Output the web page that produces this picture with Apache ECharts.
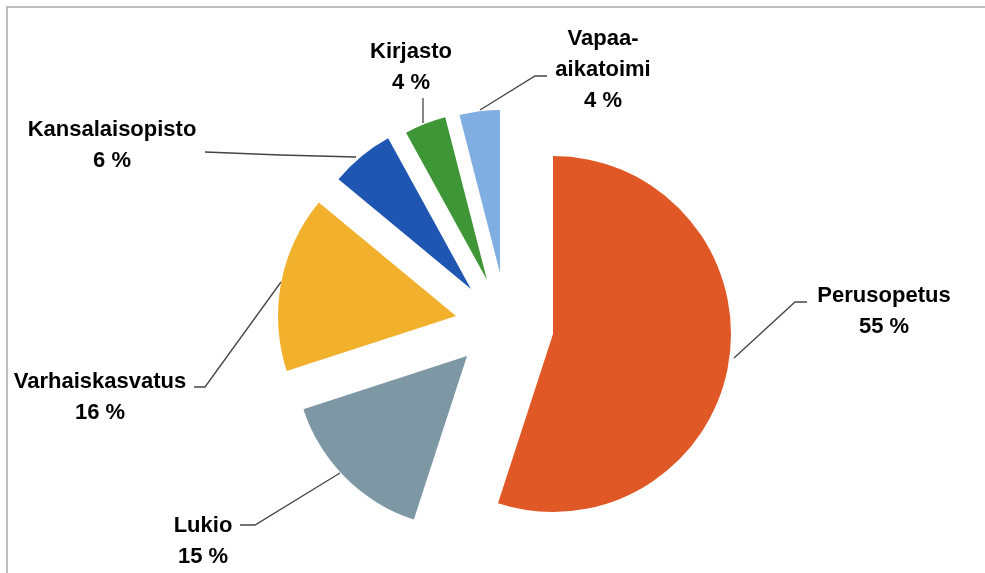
<!DOCTYPE html>
<html>
<head>
<meta charset="utf-8">
<script src="https://cdn.jsdelivr.net/npm/echarts@6/dist/echarts.min.js"></script>
<style>
html,body{margin:0;padding:0;background:#fff;}
#chart{width:985px;height:573px;}
</style>
</head>
<body>
<div id="chart"></div>
<script>
// ---- data ----
const categories = ['Perusopetus', 'Lukio', 'Varhaiskasvatus', 'Kansalaisopisto', 'Kirjasto', 'Vapaa-aikatoimi'];
const shares = [55, 15, 16, 6, 4, 4];

// ---- styling / layout ----
const colors = ['#DF5826', '#7D97A5', '#F2B12C', '#1E56B2', '#3F9636', '#80AEE3'];
const sliceCenters = [[553, 334], [467, 356], [456, 316], [471, 289], [487, 280], [500, 273]];
const sliceRadii = [178, 172, 178, 172, 168, 163];
const labelPos = [[884, 311], [203, 541], [100, 397], [112, 145], [411, 67], [603, 70]];
const leaderLines = [
  [[734, 358], [795, 302], [807, 302]],
  [[340, 473], [255, 525], [240, 525]],
  [[281, 282], [205, 387], [194, 387]],
  [[356, 157], [280, 155], [205, 152]],
  [[423, 123], [423, 110], [423, 98]],
  [[480, 110], [535, 76], [547, 76]]
];

const chart = echarts.init(document.getElementById('chart'), null, {renderer: 'canvas'});

const series = categories.map((_, k) => ({
  type: 'pie',
  silent: true,
  animation: false,
  startAngle: 90,
  clockwise: true,
  avoidLabelOverlap: false,
  center: sliceCenters[k],
  radius: [0, sliceRadii[k]],
  emphasis: {disabled: true},
  data: categories.map((name, i) => ({
    name: name,
    value: shares[i],
    itemStyle: {color: i === k ? colors[i] : 'rgba(0,0,0,0)'},
    label: {show: i === k},
    labelLine: {show: i === k}
  })),
  label: {
    formatter: p => p.name.replace('-', '-\n') + '\n' + Math.round(p.percent) + ' %',
    fontFamily: 'Liberation Sans',
    fontWeight: 'bold',
    fontSize: 22,
    lineHeight: 31,
    color: '#000',
    align: 'center'
  },
  labelLine: {
    lineStyle: {color: '#444', width: 1.3}
  },
  labelLayout: params => {
    if (params.dataIndex !== k) return {};
    return {
      x: labelPos[k][0],
      y: labelPos[k][1],
      align: 'center',
      verticalAlign: 'middle',
      labelLinePoints: leaderLines[k]
    };
  }
}));

chart.setOption({
  animation: false,
  backgroundColor: '#fff',
  graphic: [{
    type: 'rect',
    silent: true,
    shape: {x: 7, y: 7, width: 1010, height: 620},
    style: {fill: 'none', stroke: '#bdbdbd', lineWidth: 2}
  }],
  series: series
});
</script>
</body>
</html>
